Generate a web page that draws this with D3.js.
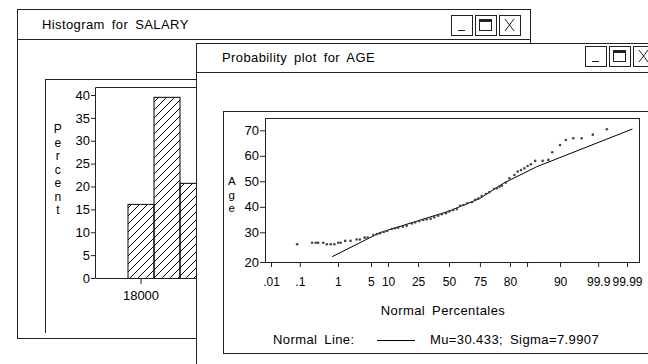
<!DOCTYPE html>
<html>
<head>
<meta charset="utf-8">
<script src="https://cdn.jsdelivr.net/npm/d3@7/dist/d3.min.js"></script>
<style>
  body { margin: 0; background: #fff; }
  text { font-family: "Liberation Sans", Arial, sans-serif; font-size: 13px; fill: #000; letter-spacing: 0.4px; word-spacing: 3px; }
</style>
</head>
<body>
<div id="chart"></div>
<script>
// histogram for SALARY (only the bars not hidden by the front window)
const salaryBinStart = [17000, 19000, 21000];
const salaryBinWidth = 2000;
const salaryPercent = [16.2, 39.6, 20.8];
const salaryTicks = [18000];
const percentTicks = [0, 5, 10, 15, 20, 25, 30, 35, 40];

// probability plot for AGE (x in normal-score units)
const ageScore = [-5.06, -4.56, -4.44, -4.36, -4.19, -4.07, -3.94, -3.82, -3.69, -3.61,
  -3.46, -3.28, -3.08, -2.97, -2.81, -2.71, -2.52, -2.40, -2.30, -2.17,
  -2.06, -1.91, -1.80, -1.69, -1.54, -1.41, -1.24, -1.13, -0.99, -0.86,
  -0.74, -0.61, -0.49, -0.36, -0.24, -0.10, 0.01, 0.14, 0.26, 0.37,
  0.48, 0.61, 0.76, 0.87, 0.98, 1.09, 1.23, 1.34, 1.50, 1.59,
  1.68, 1.76, 1.89, 2.01, 2.18, 2.29, 2.40, 2.51, 2.62, 2.73,
  2.87, 3.12, 3.31, 3.44, 3.70, 3.89, 4.14, 4.42, 4.79, 5.26];
const ageValue = [26.0, 26.5, 26.5, 26.5, 26.5, 26.0, 26.0, 26.0, 26.5, 26.5,
  27.1, 27.1, 27.6, 27.6, 28.2, 28.2, 29.1, 29.4, 29.7, 30.1,
  30.5, 31.3, 31.6, 31.8, 32.2, 32.6, 33.5, 33.9, 34.4, 34.8,
  35.1, 35.3, 35.9, 36.5, 37.1, 37.5, 38.2, 38.7, 39.1, 40.4,
  40.7, 41.4, 41.8, 42.7, 43.3, 44.2, 45.0, 45.7, 47.0, 47.3,
  47.9, 48.3, 49.5, 51.2, 52.5, 53.8, 54.4, 55.1, 56.0, 56.7,
  58.0, 58.0, 58.4, 61.4, 64.2, 66.2, 66.9, 66.9, 68.3, 70.4];
const normalLineScore = [-3.89, -2.30, 0.0, 1.03, 1.81, 2.92, 6.11];
const normalLineAge = [21.8, 29.9, 38.3, 43.3, 49.2, 55.7, 70.5];
const ageTicks = [20, 30, 40, 50, 60, 70];
const pctTickPos = [-5.93, -4.97, -3.7, -2.6, -2.03, -1.03, 0, 1.03, 2.03, 2.6, 3.7, 4.97, 5.93];
const pctTickLabels = [".01", ".1", "1", "5", "10", "25", "50", "75", "80", "", "90", "99.9", "99.99"];

const W = 648, H = 364;
const svg = d3.select('#chart').append('svg').attr('width', W).attr('height', H);

const lineColor = '#222';

function drawWindow(g, x, y, w, h, titleH, title, titleX, btnX, btnY) {
  g.append('rect').attr('x', x + 0.5).attr('y', y + 0.5).attr('width', w).attr('height', h)
    .attr('fill', '#fff').attr('stroke', lineColor);
  g.append('line').attr('x1', x).attr('x2', x + w).attr('y1', y + titleH + 0.5).attr('y2', y + titleH + 0.5)
    .attr('stroke', lineColor);
  g.append('text').attr('x', titleX).attr('y', y + titleH / 2).attr('dy', '0.35em').text(title);
  const bw = 21, bh = 20, gap = 3;
  [0, 1, 2].forEach(i => {
    const bx = btnX + i * (bw + gap);
    g.append('rect').attr('x', bx + 0.5).attr('y', btnY + 0.5).attr('width', bw).attr('height', bh)
      .attr('fill', '#fff').attr('stroke', lineColor);
    if (i === 0) {
      g.append('line').attr('x1', bx + 7).attr('x2', bx + 14).attr('y1', btnY + 15.5).attr('y2', btnY + 15.5)
        .attr('stroke', lineColor);
    } else if (i === 1) {
      g.append('rect').attr('x', bx + 4.5).attr('y', btnY + 4.5).attr('width', 12).attr('height', 11)
        .attr('fill', 'none').attr('stroke', lineColor);
      g.append('line').attr('x1', bx + 4.5).attr('x2', bx + 16.5).attr('y1', btnY + 6).attr('y2', btnY + 6)
        .attr('stroke', lineColor).attr('stroke-width', 2);
    } else {
      g.append('path').attr('d', `M${bx + 6},${btnY + 4}L${bx + 15},${btnY + 16}M${bx + 15},${btnY + 4}L${bx + 6},${btnY + 16}`)
        .attr('stroke', lineColor).attr('fill', 'none');
    }
  });
}

function styleAxis(g) {
  g.select('.domain').remove();
  g.selectAll('.tick line').attr('stroke', lineColor);
  g.selectAll('.tick text').attr('fill', '#000')
    .style('font-family', '"Liberation Sans", Arial, sans-serif').style('font-size', '13px')
    .style('letter-spacing', '0px');
}

// ---------- back window: histogram ----------
const back = svg.append('g');
drawWindow(back, 17, 9, 513, 329, 30, 'Histogram for SALARY', 42, 451, 15);
back.append('line').attr('x1', 45.5).attr('x2', 45.5).attr('y1', 79).attr('y2', 333).attr('stroke', lineColor);
back.append('line').attr('x1', 45).attr('x2', 530).attr('y1', 79.5).attr('y2', 79.5).attr('stroke', lineColor);

const hx = d3.scaleLinear().domain([14500, 22000]).range([95, 192.5]);
const hy = d3.scaleLinear().domain([0, 40]).range([278, 95]);

const defs = svg.append('defs');
defs.append('pattern').attr('id', 'hatch').attr('patternUnits', 'userSpaceOnUse')
  .attr('width', 8).attr('height', 8)
  .append('path').attr('d', 'M-2,2L2,-2M0,8L8,0M6,10L10,6')
  .attr('stroke', '#000').attr('stroke-width', 1);

back.selectAll('rect.bar').data(salaryBinStart).enter().append('rect')
  .attr('class', 'bar')
  .attr('x', d => hx(d) + 0.5)
  .attr('y', (d, i) => hy(salaryPercent[i]) + 0.5)
  .attr('width', d => hx(d + salaryBinWidth) - hx(d))
  .attr('height', (d, i) => hy(0) - hy(salaryPercent[i]))
  .attr('fill', 'url(#hatch)').attr('stroke', '#000');

back.append('path').attr('d', `M95.5,278.5V87.5H530M95.5,278.5H530`).attr('fill', 'none').attr('stroke', lineColor);

back.append('g').attr('transform', 'translate(95,0)')
  .call(d3.axisLeft(hy).tickValues(percentTicks).tickSize(4).tickPadding(1))
  .call(styleAxis);
back.append('g').attr('transform', 'translate(0,278)')
  .call(d3.axisBottom(hx).tickValues(salaryTicks).tickSize(6).tickPadding(7).tickFormat(d3.format('d')))
  .call(styleAxis);

back.append('g').selectAll('text').data('Percent'.split('')).enter().append('text')
  .attr('x', 58).attr('y', (d, i) => 129 + i * 13.5).attr('dy', '0.35em')
  .attr('text-anchor', 'middle').style('font-size', '12px').text(d => d);

// ---------- front window: probability plot ----------
const front = svg.append('g');
drawWindow(front, 196, 43, 470, 340, 29, 'Probability plot for AGE', 222, 585, 46);
front.append('rect').attr('x', 223.5).attr('y', 111.5).attr('width', 460).attr('height', 242)
  .attr('fill', 'none').attr('stroke', lineColor);

const px = d3.scaleLinear().domain([-6.13, 6.33]).range([265, 639]);
const py = d3.scaleLinear().domain([20, 30, 70]).range([262, 232.3, 130.3]);

front.append('rect').attr('x', 265.5).attr('y', 118.5).attr('width', 374).attr('height', 144)
  .attr('fill', 'none').attr('stroke', lineColor);

front.append('g').attr('transform', 'translate(265,0)')
  .call(d3.axisLeft(py).tickValues(ageTicks).tickSize(5).tickPadding(1))
  .call(styleAxis);
front.append('g').attr('transform', 'translate(0,262)')
  .call(d3.axisBottom(px).tickValues(pctTickPos).tickSize(5).tickPadding(10)
    .tickFormat((d, i) => pctTickLabels[i]))
  .call(styleAxis)
  .call(g => g.selectAll('.tick text').style('font-size', '12px'));

front.append('g').selectAll('text').data('Age'.split('')).enter().append('text')
  .attr('x', 232).attr('y', (d, i) => 181 + i * 13.5).attr('dy', '0.35em')
  .attr('text-anchor', 'middle').style('font-size', '11.5px').text(d => d);

const normalLine = d3.line().x(d => px(d[0])).y(d => py(d[1]));
front.append('path')
  .datum(normalLineScore.map((s, i) => [s, normalLineAge[i]]))
  .attr('d', normalLine).attr('fill', 'none').attr('stroke', '#000').attr('stroke-width', 1);

front.selectAll('circle.pt').data(ageScore).enter().append('circle')
  .attr('class', 'pt')
  .attr('cx', d => px(d)).attr('cy', (d, i) => py(ageValue[i]))
  .attr('r', 1.3).attr('fill', '#444');

front.append('text').attr('x', px(0) - 6).attr('y', 310).attr('dy', '0.35em')
  .attr('text-anchor', 'middle').text('Normal Percentales');

front.append('text').attr('x', 273).attr('y', 339.5).attr('dy', '0.35em').text('Normal Line:');
front.append('line').attr('x1', 377).attr('x2', 415).attr('y1', 340.5).attr('y2', 340.5).attr('stroke', '#000');
front.append('text').attr('x', 430).attr('y', 339.5).attr('dy', '0.35em').text('Mu=30.433; Sigma=7.9907');
</script>
</body>
</html>
